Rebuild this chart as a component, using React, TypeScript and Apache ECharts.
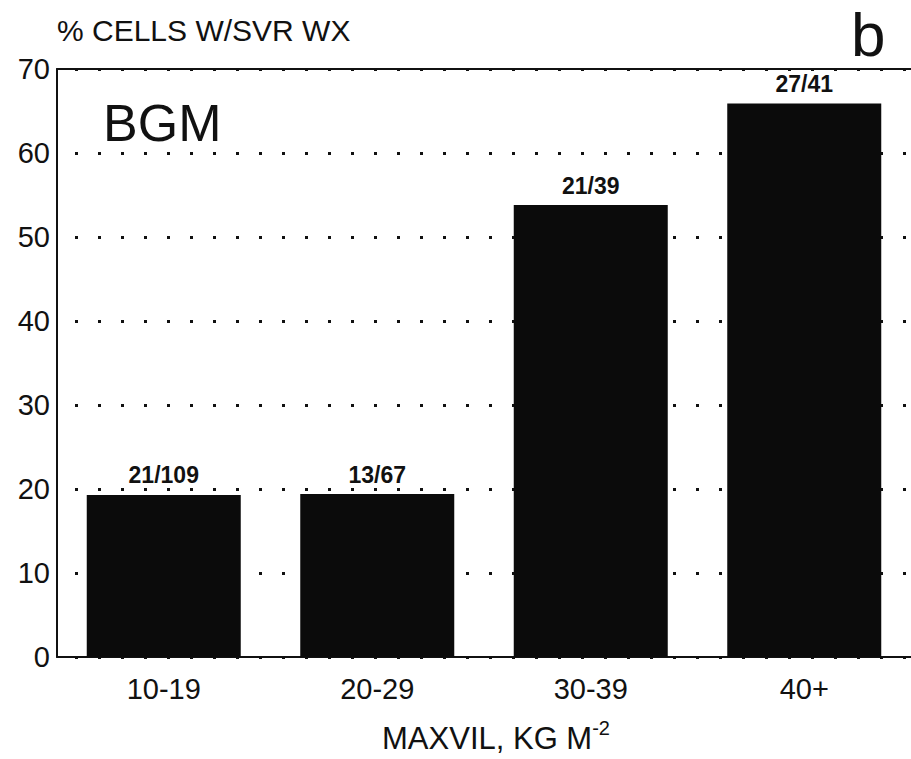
import React, { useEffect, useRef } from "react";
import * as echarts from "echarts";

const categories = ["10-19", "20-29", "30-39", "40+"];
const percentValues = [19.3, 19.4, 53.8, 65.9];
const barLabels = ["21/109", "13/67", "21/39", "27/41"];
const yTicks = [0, 10, 20, 30, 40, 50, 60, 70];

const FONT = "'Liberation Sans', Arial, Helvetica, sans-serif";
const INK = "#111111";

export default function App() {
  const ref = useRef<HTMLDivElement>(null);

  useEffect(() => {
    if (!ref.current) return;
    const chart = echarts.init(ref.current, null, { renderer: "svg" });
    const option: any = {
      animation: false,
      backgroundColor: "#ffffff",
      title: {
        text: "% CELLS W/SVR WX",
        left: 57,
        top: 15,
        padding: 0,
        textStyle: { fontFamily: FONT, fontSize: 30, fontWeight: "normal", color: INK },
      },
      grid: { left: 57, right: -10, top: 69, bottom: 99, containLabel: false },
      xAxis: [
        {
          type: "category",
          data: categories,
          position: "bottom",
          axisLine: { show: true, lineStyle: { color: INK, width: 2 } },
          axisTick: { show: false },
          axisLabel: { fontFamily: FONT, fontSize: 29, color: INK, margin: 17 },
          name: "{a|MAXVIL, KG M}{b|-2}",
          nameLocation: "middle",
          nameGap: 61,
          nameTextStyle: {
            padding: [0, 0, 0, 24],
            rich: {
              a: { fontFamily: FONT, fontSize: 31, color: INK, lineHeight: 36, verticalAlign: "bottom" },
              b: { fontFamily: FONT, fontSize: 20, color: INK, lineHeight: 20, verticalAlign: "top" },
            },
          },
        },
        {
          type: "category",
          data: categories,
          position: "top",
          axisLine: { show: true, lineStyle: { color: INK, width: 2 } },
          axisTick: { show: false },
          axisLabel: { show: false },
        },
      ],
      yAxis: {
        type: "value",
        min: yTicks[0],
        max: yTicks[yTicks.length - 1],
        interval: 10,
        axisLine: { show: true, lineStyle: { color: INK, width: 2 } },
        axisTick: { show: false },
        axisLabel: { fontFamily: FONT, fontSize: 29, color: INK, margin: 7 },
        splitLine: {
          show: true,
          lineStyle: { color: INK, width: 3, type: [3, 20], dashOffset: -18 },
        },
      },
      graphic: [
        {
          type: "text",
          x: 103,
          y: 123,
          style: { text: "BGM", fontFamily: FONT, fontSize: 52, fill: INK, align: "left", verticalAlign: "middle" },
        },
        {
          type: "text",
          x: 851,
          y: 3,
          style: {
            text: "b",
            fontFamily: FONT,
            fontSize: 62,
            lineHeight: 62,
            fill: INK,
            align: "left",
            verticalAlign: "top",
          },
        },
      ],
      series: [
        {
          type: "bar",
          xAxisIndex: 0,
          data: percentValues,
          barWidth: 154,
          itemStyle: { color: "#0b0b0b" },
          label: {
            show: true,
            position: "top",
            distance: 8,
            fontFamily: FONT,
            fontSize: 23,
            fontWeight: "bold",
            color: INK,
            formatter: (p: any) => barLabels[p.dataIndex],
          },
        },
      ],
    };
    chart.setOption(option);
    return () => chart.dispose();
  }, []);

  return (
    <div
      ref={ref}
      style={{ position: "fixed", left: 0, top: 0, width: 911, height: 759, background: "#fff" }}
    />
  );
}
